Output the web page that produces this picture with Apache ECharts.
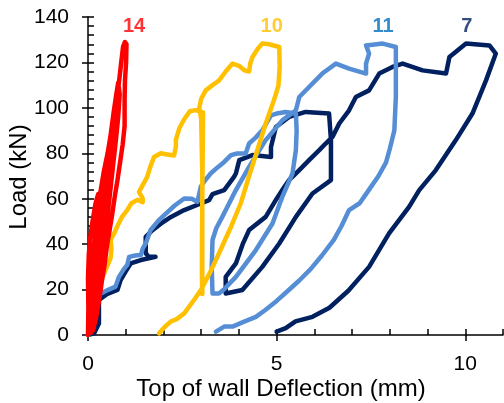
<!DOCTYPE html>
<html>
<head>
<meta charset="utf-8">
<script src="https://cdn.jsdelivr.net/npm/echarts@6/dist/echarts.min.js"></script>
<style>
html,body{margin:0;padding:0;background:#fff;}
#chart{width:504px;height:403px;}
</style>
</head>
<body>
<div id="chart"></div>
<script>
// Wall 14 (red)
const wall14 = [[0,0],[0.01,12],[0.0,25],[0.02,35],[0.05,42],[0.12,50],[0.2,58],[0.27,62],[0.3,56],[0.28,45],[0.22,32],[0.15,20],[0.08,8],[0.04,1],
[0.06,12],[0.1,25],[0.15,38],[0.22,50],[0.32,62],[0.42,72],[0.52,80],[0.6,88],[0.66,94],[0.68,90],[0.62,78],[0.55,66],[0.47,54],[0.4,43],[0.32,31],[0.23,18],[0.14,6],[0.08,1],
[0.12,12],[0.18,24],[0.26,38],[0.35,52],[0.44,66],[0.52,77],[0.6,88],[0.68,98],[0.75,106],[0.8,111],[0.84,106],[0.8,96],[0.74,86],[0.66,74],[0.58,62],[0.5,50],[0.42,38],[0.34,26],[0.25,14],[0.15,3],
[0.2,14],[0.28,28],[0.36,42],[0.44,55],[0.52,68],[0.6,80],[0.7,95],[0.78,106],[0.84,114],[0.88,120],[0.93,127],[0.98,129],[1.02,128],[1.01,120],[0.98,112],[0.97,104],[0.97,92],[0.92,84],[0.85,76],[0.78,68],[0.71,61],[0.64,53],[0.57,46],[0.5,39],[0.44,31],[0.37,24],[0.31,17],[0.22,8],[0.13,2]];
// Wall 10 (yellow)
const wall10 = [[0,0],[0.1,8],[0.2,16],[0.35,24],[0.5,30],[0.6,34],[0.62,38],[0.6,42],[0.7,45],[0.78,48],[0.9,52],[1.04,55],[1.15,58],[1.31,59.5],[1.45,58.5],[1.45,60],[1.35,63],[1.45,66],[1.57,69.6],[1.65,74],[1.75,78.4],[1.93,80],[2.1,79.5],[2.28,79],[2.33,83],[2.33,86],[2.42,91],[2.55,95],[2.7,98.5],[2.85,99],[3.05,98],[3.04,80],[3.03,60],[3.02,40],[3.02,25],[3.03,18],[3.03,40],[3.03,70],[3.0,95],[2.95,100],[3.0,104],[3.12,107.7],[3.3,110],[3.47,112],[3.65,116],[3.83,119.5],[4.0,118.5],[4.15,116.5],[4.27,116],[4.3,119.5],[4.36,122.4],[4.5,126],[4.62,128.3],[4.8,128],[5.07,126.8],[5.08,118],[5.05,110],[4.98,106],[4.9,102],[4.71,93],[4.5,82],[4.27,70],[4.05,58],[3.8,48],[3.5,37],[3.25,28],[3.0,20],[2.81,15.4],[2.55,9.5],[2.35,7],[2.19,5.9],[2.0,3],[1.88,0.7]];
// Wall 11 (light blue)
const wall11 = [[0,0],[0.04,5],[0.07,8],[0.16,13.9],[0.34,18.3],[0.55,20],[0.73,21.3],[0.82,25.6],[0.95,29],[1.04,30.8],[1.09,34.4],[1.25,35],[1.40,35.2],[1.45,38],[1.53,40.3],[1.66,46.2],[1.85,50],[2.02,52.8],[2.3,57],[2.55,60.1],[2.75,60],[2.90,58.6],[2.99,65.3],[3.1,68],[3.25,71.1],[3.45,74],[3.61,76.2],[3.79,79.2],[3.95,79.9],[4.18,79.9],[4.27,84.3],[4.45,87],[4.62,90.1],[4.85,96.7],[5.0,97.5],[5.24,98.2],[5.51,97.5],
[5.53,90],[5.51,81.4],[5.42,71.1],[5.15,60.8],[4.89,49.1],[4.45,37.4],[3.92,25.6],[3.6,20],[3.47,18.3],[3.30,18.3],
[3.28,30],[3.30,41.8],[3.4,47],[3.56,52],[3.92,63.8],[4.27,74],[4.71,85.8],[5.15,94.5],[5.51,98.9],[5.6,104.8],[5.86,109.2],[6.21,115.1],[6.57,119.5],[6.92,117.3],[7.37,115.1],[7.37,119.5],[7.45,123.9],[7.37,127.5],[7.81,128.3],[8.16,126.8],
[8.16,118],[8.16,104.8],[8.12,90.1],[8.0,82],[7.9,76],[7.7,70],[7.45,64],[7.2,58],[6.92,55],[6.72,48],[6.52,42],[6.2,35],[5.9,29],[5.6,24],[5.3,19.5],[5.0,15],[4.7,11],[4.45,8],[4.14,5.9],[3.83,3.7],[3.61,3.7],[3.39,1.5]];
// Wall 7 (navy)
const wall7 = [[0,0],[0.16,0.7],[0.29,5.1],[0.29,15.4],[0.5,18],[0.78,19.8],[0.86,24],[1.0,28],[1.13,31.5],[1.4,33],[1.79,34.4],[1.6,34.6],[1.53,36],[1.53,43.2],[1.7,46],[1.93,49],[2.2,52],[2.55,55],[2.99,57.9],[3.21,59.4],[3.30,62],[3.61,63.8],[3.87,69.6],[3.92,71.1],[4.01,77],[4.36,79.2],[4.85,78.4],[4.85,82.8],[4.98,91.6],[5.33,96],[5.77,98.2],[6.39,97.5],[6.44,85.8],[6.44,68.2],[5.95,62.3],[5.51,52],[5.07,40.3],[4.62,30],[4.09,19.8],[3.65,18.3],
[3.65,25.6],[3.92,31.5],[4.1,40],[4.27,46.2],[4.71,52],[5.0,60],[5.15,63.8],[5.33,68.2],[5.6,72.6],[5.86,77],[6.13,81.4],[6.30,84.3],[6.48,87.2],[6.66,93.1],[6.92,98.9],[7.10,104.8],[7.45,107.7],[7.72,115.1],[8.07,118],[8.34,119.5],[8.87,116.5],[9.49,115.1],[9.58,122.4],[10.02,128.3],[10.64,127.5],[10.81,123.9],
[10.55,112.1],[10.19,97.5],[9.75,85.8],[9.22,72.6],[8.78,63.8],[8.51,56.4],[7.98,44.7],[7.45,30],[6.9,19.5],[6.4,12],[5.95,8],[5.5,6],[5.24,3],[5.0,1.5]];

const wallNames = ['14','10','11','7'];
const labelX = [1.22, 4.87, 7.82, 10.04];
const labelY = [136, 136, 136, 136];
const xTicks = [0, 5, 10];
const yTicks = [0, 20, 40, 60, 80, 100, 120, 140];

const lineColors = {'14':'#FF0000','10':'#FFC000','11':'#558ED5','7':'#002060'};
const labelColors = {'14':'#FF0000','10':'#FFC000','11':'#0070C0','7':'#002060'};
const dataByName = {'14':wall14,'10':wall10,'11':wall11,'7':wall7};

const FONT = '"Liberation Sans", Arial, sans-serif';
const chart = echarts.init(document.getElementById('chart'), null, {renderer:'canvas'});

const drawOrder = ['7','11','10','14'];
const lineSeries = drawOrder.map(n => ({
  name: n,
  type: 'line',
  xAxisIndex: 0, yAxisIndex: 0,
  data: dataByName[n],
  showSymbol: false,
  symbol: 'none',
  smooth: false,
  lineStyle: {color: lineColors[n], width: 4.5, cap: 'round', join: 'round'},
  z: 3
}));

const labelSeries = {
  type: 'scatter',
  xAxisIndex: 0, yAxisIndex: 0,
  symbolSize: 0,
  silent: true,
  z: 5,
  data: wallNames.map((n, i) => ({
    name: n,
    value: [labelX[i], labelY[i]],
    label: {show: true, position: 'inside', formatter: n, color: labelColors[n],
            fontFamily: FONT, fontWeight: 'bold', fontSize: 20}
  }))
};

const axisLineStyle = {color:'#000', width:1.5};

chart.setOption({
  animation: false,
  backgroundColor: '#fff',
  grid: {left: 88, right: 1, top: 17, bottom: 68},
  xAxis: [
    {type:'value', min:0, max:11, interval:5, position:'bottom',
     axisLine:{show:true, lineStyle:axisLineStyle, onZero:false},
     axisTick:{show:true, inside:false, length:6, lineStyle:axisLineStyle, customValues: xTicks},
     axisLabel:{show:true, margin:19, color:'#000', fontSize:21, fontFamily:FONT, customValues: xTicks},
     splitLine:{show:false}},
    {type:'value', min:0, max:11, interval:1, position:'bottom',
     axisLine:{show:false, onZero:false},
     axisTick:{show:true, inside:true, length:6, lineStyle:axisLineStyle},
     axisLabel:{show:false}, splitLine:{show:false}}
  ],
  yAxis: [
    {type:'value', min:0, max:140, interval:20, position:'left',
     axisLine:{show:true, lineStyle:axisLineStyle, onZero:false},
     axisTick:{show:true, inside:false, length:6, lineStyle:axisLineStyle},
     axisLabel:{show:true, margin:19, color:'#000', fontSize:21, fontFamily:FONT, customValues: yTicks},
     splitLine:{show:false}},
    {type:'value', min:0, max:140, interval:4, position:'left',
     axisLine:{show:false, onZero:false},
     axisTick:{show:true, inside:true, length:6, lineStyle:axisLineStyle},
     axisLabel:{show:false}, splitLine:{show:false}}
  ],
  graphic: [
    {type:'text', x:281, y:389, style:{text:'Top of wall Deflection (mm)', fill:'#000', font:'24px ' + FONT, align:'center', verticalAlign:'middle'}},
    {type:'text', x:19, y:177, rotation: Math.PI/2, style:{text:'Load (kN)', fill:'#000', font:'24px ' + FONT, align:'center', verticalAlign:'middle'}}
  ],
  series: lineSeries.concat([labelSeries])
});
</script>
</body>
</html>
